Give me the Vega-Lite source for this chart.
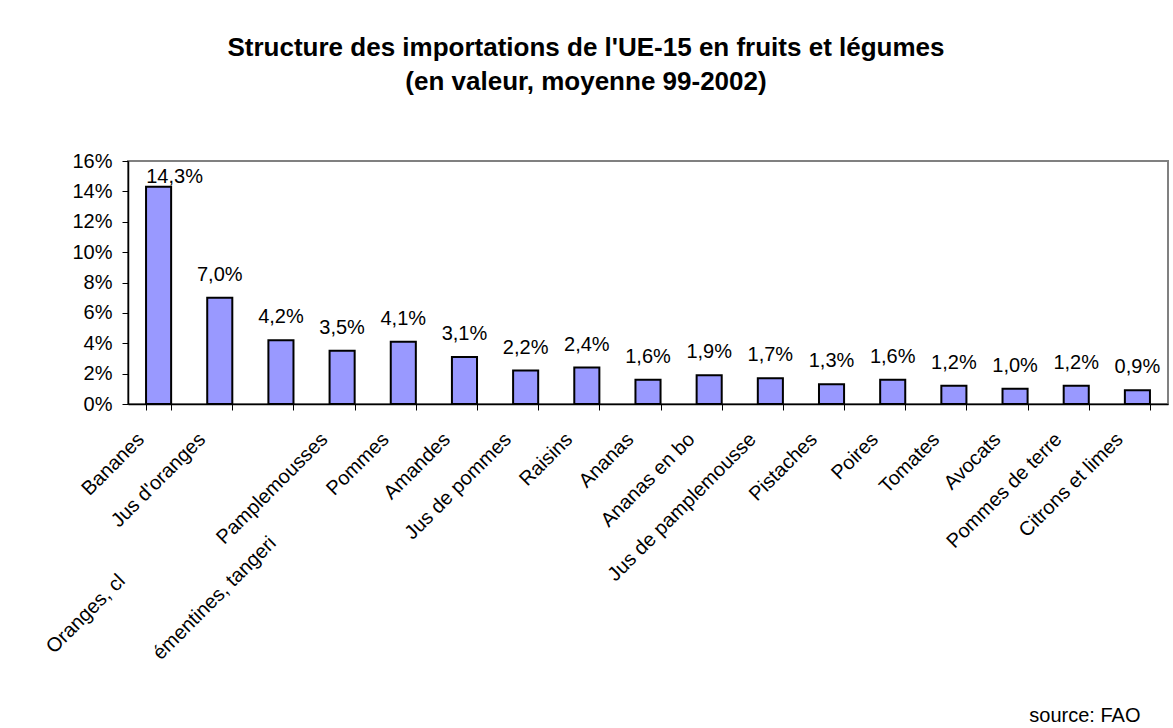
{
  "$schema": "https://vega.github.io/schema/vega-lite/v6.json",
  "width": 1040,
  "height": 243,
  "autosize": {"type": "none"},
  "padding": {"left": 128, "top": 161, "right": 5, "bottom": 324},
  "background": "white",
  "config": {
    "locale": {"number": {"decimal": ",", "thousands": " ", "grouping": [3], "currency": ["", " €"]}},
    "font": "Liberation Sans",
    "view": {"stroke": "#808080", "strokeWidth": 2}
  },
  "title": {
    "text": ["Structure des importations de l'UE-15 en fruits et légumes", "(en valeur, moyenne 99-2002)"],
    "font": "Liberation Sans",
    "fontSize": 26,
    "fontWeight": "bold",
    "lineHeight": 34,
    "anchor": "middle",
    "frame": "group",
    "dx": -62,
    "offset": 56,
    "color": "black"
  },
  "data": {
    "values": [
      {"produit": "Bananes", "part": 0.143},
      {"produit": "Jus d'oranges", "part": 0.070},
      {"produit": "Oranges, clémentines, tangerines", "part": 0.042},
      {"produit": "Pamplemousses", "part": 0.035},
      {"produit": "Pommes", "part": 0.041},
      {"produit": "Amandes", "part": 0.031},
      {"produit": "Jus de pommes", "part": 0.022},
      {"produit": "Raisins", "part": 0.024},
      {"produit": "Ananas", "part": 0.016},
      {"produit": "Ananas en bo", "part": 0.019},
      {"produit": "Jus de pamplemousse", "part": 0.017},
      {"produit": "Pistaches", "part": 0.013},
      {"produit": "Poires", "part": 0.016},
      {"produit": "Tomates", "part": 0.012},
      {"produit": "Avocats", "part": 0.010},
      {"produit": "Pommes de terre", "part": 0.012},
      {"produit": "Citrons et limes", "part": 0.009}
    ]
  },
  "encoding": {
    "x": {
      "field": "produit",
      "type": "nominal",
      "sort": null,
      "scale": {"paddingInner": 0.59, "paddingOuter": 0.295},
      "axis": {
        "title": "source: FAO",
        "titleAnchor": "end",
        "titleAlign": "right",
        "titleBaseline": "alphabetic",
        "titleX": 1012,
        "titleY": 317,
        "titleFont": "Liberation Sans",
        "titleFontSize": 20,
        "titleFontWeight": "normal",
        "titleColor": "black",
        "labelAngle": -45,
        "labelAlign": "right",
        "labelBaseline": "middle",
        "labelFontSize": 20,
        "labelColor": "black",
        "labelPadding": 26,
        "labelOffset": -18,
        "labelLimit": 0,
        "labelOverlap": false,
        "labelLineHeight": 80,
        "labelExpr": "datum.value == 'Oranges, clémentines, tangerines' ? [pad('Oranges, cl', 47, '\u00a0') + '\u200b', pad('émentines, tangeri', 30, '\u00a0') + '\u200b'] : datum.label",
        "tickBand": "extent",
        "tickSize": 6,
        "tickColor": "black",
        "domainColor": "black",
        "domainWidth": 1.5
      }
    },
    "y": {
      "field": "part",
      "type": "quantitative",
      "scale": {"domain": [0, 0.16]},
      "axis": {
        "title": null,
        "format": ".0%",
        "values": [0, 0.02, 0.04, 0.06, 0.08, 0.1, 0.12, 0.14, 0.16],
        "grid": false,
        "labelFontSize": 20,
        "labelColor": "black",
        "labelPadding": 10,
        "tickSize": 6,
        "tickColor": "black",
        "domainColor": "black",
        "domainWidth": 1.5
      }
    }
  },
  "layer": [
    {"mark": {"type": "bar", "fill": "#9999FF", "stroke": "black", "strokeWidth": 2}},
    {
      "mark": {
        "type": "text",
        "baseline": "alphabetic",
        "fontSize": 20,
        "color": "black",
        "dy": {"expr": "datum.part > 0.1 ? -4 : -17"},
        "dx": {"expr": "datum.part > 0.1 ? 16 : 0"}
      },
      "encoding": {"text": {"field": "part", "format": ".1%"}}
    }
  ]
}
